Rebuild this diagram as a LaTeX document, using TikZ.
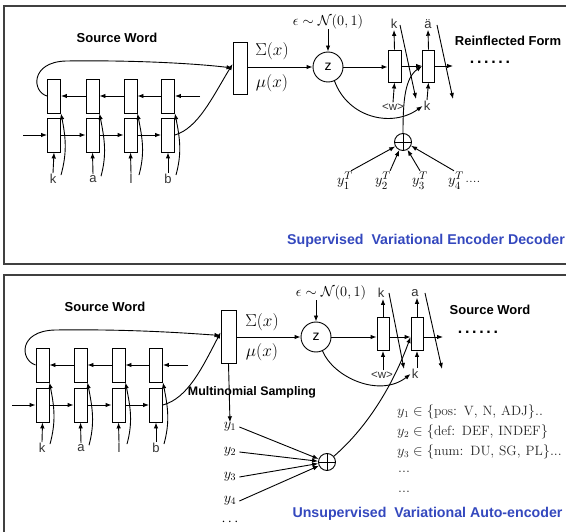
\documentclass[tikz,border=0pt]{standalone}
\usepackage{fontspec}
\setsansfont{Liberation Sans}
\usetikzlibrary{arrows.meta}
\definecolor{frame}{RGB}{64,64,64}
\definecolor{titleblue}{RGB}{52,72,190}
\begin{document}
\begin{tikzpicture}[x=1pt,y=-1pt,
  cell/.style={draw,line width=0.9pt,minimum width=13pt,minimum height=34pt,inner sep=0pt},
  bigcell/.style={draw,line width=0.9pt,minimum width=14pt,minimum height=52pt,inner sep=0pt},
  arr/.style={line width=0.9pt,-{Latex[length=6pt,width=4.5pt]}},
  ln/.style={line width=0.9pt},
  zc/.style={draw,circle,line width=0.9pt,minimum size=30pt,inner sep=0pt,font=\sffamily\fontsize{14}{16}\selectfont},
  plus/.style={draw,circle,line width=0.9pt,minimum size=17pt,inner sep=0pt},
  letter/.style={font=\sffamily\fontsize{13}{15}\selectfont,inner sep=1pt,text=black!80},
  small/.style={font=\sffamily\fontsize{11.5}{13}\selectfont,inner sep=1pt,text=black!80},
  head/.style={font=\sffamily\bfseries\fontsize{13}{15}\selectfont,inner sep=0pt},
  title/.style={font=\sffamily\bfseries\fontsize{14.2}{16}\selectfont,text=titleblue,inner sep=0pt},
  mth/.style={font=\fontsize{14}{16}\selectfont,inner sep=0pt},
  bigm/.style={font=\fontsize{17}{19}\selectfont,inner sep=0pt},
  ymth/.style={font=\fontsize{14.5}{16}\selectfont,inner sep=0pt},
  ytm/.style={font=\fontsize{15}{17}\selectfont,inner sep=0pt},
  dots/.style={font=\sffamily\bfseries\fontsize{16}{18}\selectfont,inner sep=0pt},
  info/.style={font=\fontsize{13.5}{16}\selectfont,inner sep=0pt,anchor=west,text=black!85}
]
\useasboundingbox (0,0) rectangle (566,532);
% frames
\draw[frame,line width=1.3pt] (570,6) -- (4,6) -- (4,264) -- (570,264);
\draw[frame,line width=1.3pt] (570,275) -- (4,275) -- (4,540);

%================ TOP PANEL =================
\node[head] (sw1) at (117,38) {Source Word};
\foreach \i/\x in {1/54,2/92.5,3/130.5,4/168}{
  \node[cell] (ta\i) at (\x,96) {};
  \node[cell] (ba\i) at (\x,135) {};
}
\node[letter] (la1) at (53,179) {k};
\node[letter] (la2) at (93,179) {a};
\node[letter] (la3) at (131,179) {l};
\node[letter] (la4) at (168,179) {b};
\coordinate (fa) at (23,135);
\coordinate (bka) at (200,96);
\draw[arr] (fa) -- (ba1.west);
\draw[arr] (ba1.east) -- (ba2.west);
\draw[arr] (ba2.east) -- (ba3.west);
\draw[arr] (ba3.east) -- (ba4.west);
\draw[arr] (bka) -- (ta4.east);
\draw[arr] (ta4.west) -- (ta3.east);
\draw[arr] (ta3.west) -- (ta2.east);
\draw[arr] (ta2.west) -- (ta1.east);
\foreach \i in {1,2,3,4}{
  \draw[arr] (la\i.north) -- (ba\i.south);
  \draw[arr] ([xshift=8pt,yshift=-2pt]la\i.north) .. controls +(6,-22) and +(5,25) .. (ta\i.south east);
}
\node[bigcell] (sa) at (240,68) {};
\draw[arr] (ta1.west) .. controls (32,92) and (30,62) .. (66,61) .. controls (140,60) and (200,64) .. ([yshift=0pt]sa.west);
\draw[arr] (ba4.east) .. controls (198,128) and (212,98) .. ([yshift=4pt]sa.west);
\node[zc] (za) at (328,67) {z};
\draw[arr] (sa.east|-za) -- (za.west);
\node[bigm] (siga) at (272,51) {$\Sigma(x)$};
\node[bigm] (mua) at (272,83) {$\mu(x)$};
\node[mth] (epsa) at (328,22) {$\epsilon\sim\mathcal{N}(0,1)$};
\draw[arr] (epsa.south) -- (za.north);
\node[cell,minimum height=32pt] (da1) at (394.5,66) {};
\node[cell,minimum height=32pt,minimum width=12pt] (da2) at (428.5,66) {};
\coordinate (outa) at (453,66);
\draw[arr] (za.east) -- (da1.west|-za);
\draw[arr] (da1.east) -- (da2.west);
\draw[arr] (da2.east) -- (outa);
\node[dots] (dota) at (490,62) {.\,.\,.\,.\,.\,.};
\node[letter] (oka) at (394,24) {k};
\node[letter] (oaa) at (428,24) {ä};
\draw[arr] (da1.north) -- (oka.south);
\draw[arr] (da2.north) -- (oaa.south);
\node[small] (wa) at (393,107) {<w>};
\node[letter] (kka) at (427,106) {k};
\draw[arr] (wa.north) -- (da1.south);
\draw[arr] (kka.north) -- (da2.south);
\coordinate (d1s) at (400,25);
\coordinate (d1e) at (416,99);
\coordinate (d2s) at (437,25);
\coordinate (d2e) at (453,99);
\draw[arr] (d1s) -- (d1e);
\draw[arr] (d2s) -- (d2e);
\draw[arr] (za.-65) .. controls (348,118) and (392,128) .. (kka.west);
\node[plus] (pa) at (403,142) {};
\draw[ln] (pa.north) -- (pa.south) (pa.west) -- (pa.east);
\draw[arr] (pa.north) .. controls (403,100) and (405,78) .. (da2.west);
\node[head] (rf) at (508,41) {Reinflected Form};
\node[ytm] (y1a) at (345,182) {$y^{T}_{\vphantom{(}1}$};
\node[ytm] (y2a) at (383,182) {$y^{T}_{\vphantom{(}2}$};
\node[ytm] (y3a) at (420,182) {$y^{T}_{\vphantom{(}3}$};
\node[ytm] (y4a) at (456,182) {$y^{T}_{\vphantom{(}4}$};
\node[ytm,anchor=west] (y4dots) at ([xshift=1pt]y4a.east) {....};
\draw[arr] ([xshift=-2pt,yshift=1pt]y1a.north east) -- (pa.-150);
\draw[arr] ([xshift=-1pt,yshift=1pt]y2a.north east) -- (pa.-115);
\draw[arr] ([yshift=1pt]y3a.north) -- (pa.-60);
\draw[arr] ([xshift=-2pt,yshift=1pt]y4a.north) -- (pa.-25);
\node[title] (tta) at (426,241) {Supervised\ \ Variational Encoder Decoder};

%================ BOTTOM PANEL =================
\node[head] (sw2) at (105,307) {Source Word};
\foreach \i/\x in {1/42.5,2/80.5,3/118.5,4/156}{
  \node[cell] (tb\i) at (\x,365) {};
  \node[cell] (bb\i) at (\x,405) {};
}
\node[letter] (lb1) at (42,448) {k};
\node[letter] (lb2) at (81,448) {a};
\node[letter] (lb3) at (119,448) {l};
\node[letter] (lb4) at (156,448) {b};
\coordinate (fb) at (12,405);
\coordinate (bkb) at (188,365);
\draw[arr] (fb) -- (bb1.west);
\draw[arr] (bb1.east) -- (bb2.west);
\draw[arr] (bb2.east) -- (bb3.west);
\draw[arr] (bb3.east) -- (bb4.west);
\draw[arr] (bkb) -- (tb4.east);
\draw[arr] (tb4.west) -- (tb3.east);
\draw[arr] (tb3.west) -- (tb2.east);
\draw[arr] (tb2.west) -- (tb1.east);
\foreach \i in {1,2,3,4}{
  \draw[arr] (lb\i.north) -- (bb\i.south);
  \draw[arr] ([xshift=8pt,yshift=-2pt]lb\i.north) .. controls +(6,-22) and +(5,25) .. (tb\i.south east);
}
\node[bigcell,minimum height=53pt,minimum width=15pt] (sb) at (228.5,336.5) {};
\draw[arr] (tb1.west) .. controls (20,360) and (18,331) .. (55,330) .. controls (130,329) and (185,333) .. ([yshift=1pt]sb.west);
\draw[arr] (bb4.east) .. controls (188,398) and (202,368) .. ([yshift=4pt]sb.west);
\node[zc] (zb) at (316,337) {z};
\draw[arr] (sb.east|-zb) -- (zb.west);
\node[bigm] (sigb) at (262,322) {$\Sigma(x)$};
\node[bigm] (mub) at (262,352) {$\mu(x)$};
\node[mth] (epsb) at (331,293) {$\epsilon\sim\mathcal{N}(0,1)$};
\draw[arr] (zb.north|-epsb.south) -- (zb.north);
\node[cell,minimum height=33pt,minimum width=12pt] (db1) at (383,334) {};
\node[cell,minimum height=33pt,minimum width=12pt] (db2) at (417,334) {};
\coordinate (outb) at (443,337);
\draw[arr] (zb.east) -- (db1.west|-zb);
\draw[arr] (db1.east|-zb) -- (db2.west|-zb);
\draw[arr] (db2.east|-zb) -- (outb);
\node[dots] (dotb) at (478,332) {.\,.\,.\,.\,.\,.};
\node[letter] (okb) at (381,293) {k};
\node[letter] (oab) at (415,293) {a};
\draw[arr] (db1.north) -- (okb.south-|db1.north);
\draw[arr] (db2.north) -- (oab.south-|db2.north);
\node[small] (wb) at (382,375) {<w>};
\node[letter] (kkb) at (415,374) {k};
\draw[arr] (wb.north-|db1.south) -- (db1.south);
\draw[arr] (kkb.north-|db2.south) -- (db2.south);
\coordinate (e1s) at (389,293);
\coordinate (e1e) at (404,369);
\coordinate (e2s) at (425,293);
\coordinate (e2e) at (442,369);
\draw[arr] (e1s) -- (e1e);
\draw[arr] (e2s) -- (e2e);
\draw[arr] (zb.-65) .. controls (334,378) and (380,398) .. (kkb.west);
\node[head] (sw3) at (490,310) {Source Word};
\node[head,font=\sffamily\bfseries\fontsize{12.4}{14}\selectfont] (ms) at (252,392) {Multinomial Sampling};
\node[ymth] (y1b) at (230,427) {$y_1$};
\node[ymth] (y2b) at (230,452) {$y_2$};
\node[ymth] (y3b) at (230,477) {$y_3$};
\node[ymth] (y4b) at (230,501) {$y_4$};
\node[ymth] (ydb) at (230,522) {$\cdots$};
\draw[arr] (sb.south) -- (y1b.north);
\node[plus] (pb) at (327,462) {};
\draw[ln] (pb.north) -- (pb.south) (pb.west) -- (pb.east);
\draw[arr] ([xshift=3pt]y1b.east) -- (pb.160);
\draw[arr] ([xshift=3pt]y2b.east) -- (pb.175);
\draw[arr] ([xshift=3pt]y3b.east) -- (pb.190);
\draw[arr] ([xshift=3pt]y4b.east) -- (pb.205);
\draw[arr] (pb.40) .. controls (370,425) and (395,380) .. (db2.west|-zb);
\node[info] (i1) at (397,412) {$y_1\in\{\mathrm{pos\colon\ V,\,N,\,ADJ}\}..$};
\node[info] (i2) at (397,432) {$y_2\in\{\mathrm{def\colon\ DEF,\,INDEF}\}$};
\node[info] (i3) at (397,452) {$y_3\in\{\mathrm{num\colon\ DU,\,SG,\,PL}\}...$};
\node[info] (i4) at (398,472) {$...$};
\node[info] (i5) at (398,492) {$...$};
\node[title] (ttb) at (427.5,514) {Unsupervised\ \ Variational Auto-encoder};
\end{tikzpicture}
\end{document}
